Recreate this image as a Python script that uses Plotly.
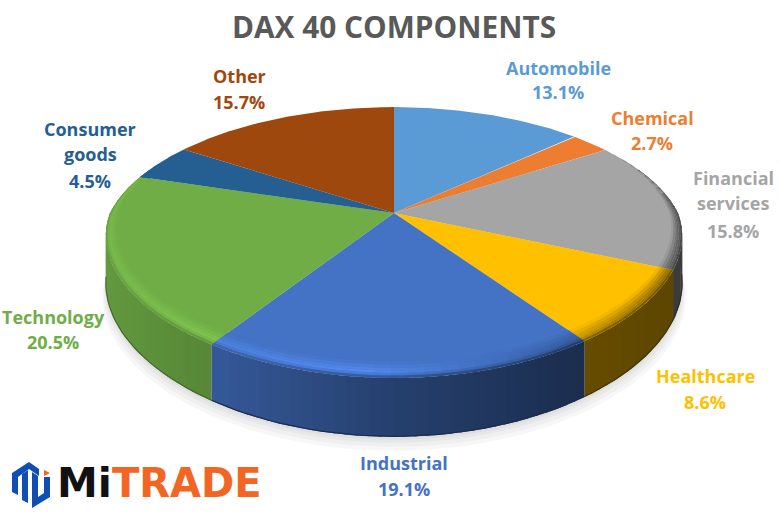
import numpy as np
import plotly.graph_objects as go

categories = ["Automobile", "Chemical", "Financial services", "Healthcare",
              "Industrial", "Technology", "Consumer goods", "Other"]
shares = [13.1, 2.7, 15.8, 8.6, 19.1, 20.5, 4.5, 15.7]
colors = ["#5B9BD5", "#ED7D31", "#A5A5A5", "#FFC000",
          "#4472C4", "#70AD47", "#255E91", "#9E480E"]
label_lines = [["Automobile"], ["Chemical"], ["Financial", "services"], ["Healthcare"],
               ["Industrial"], ["Technology"], ["Consumer", "goods"], ["Other"]]
label_x = [558, 652, 733, 705, 404, 53, 90, 239]
label_y = [[68, 92], [118, 143], [178, 203, 231], [376, 402],
           [463, 489], [317, 342], [129, 154, 181], [76, 102]]

W, H = 780, 519
CX, CY = 394, 213
KX_FRONT, KX_BACK, KY, A, B = 0.17, 0.23, 0.218, 284.0, 129.0
DEPTH = 46.0


def rgb(h):
    return np.array([int(h[i:i + 2], 16) for i in (1, 3, 5)], float)


def css(c):
    c = np.clip(c, 0, 255)
    return f"rgb({int(c[0])},{int(c[1])},{int(c[2])})"


def proj(theta, r=1.0, down=0.0):
    X, Y = r * np.sin(theta), -r * np.cos(theta)
    kx = np.where(Y > 0, KX_FRONT, KX_BACK)
    return CX + A * X / (1 - kx * Y), CY + B * Y / (1 - KY * Y) + down / (1 - KY * Y)


def side_factor(x):
    return np.interp((x - 108) / 575, [0, .18, .5, .83, 1], [.88, .78, .56, .40, .36])


def bevel_factor(x):
    return np.interp((x - 108) / 575, [0, .45, .65, 1], [1.08, 1.22, 1.0, .62])


def bevel_width(theta):
    Y = -np.cos(theta)
    return (.03 + .05 * max(Y, 0)) * np.clip((Y + .55) / .55, 0, 1)


fig = go.Figure()


def poly(xs, ys, color):
    fig.add_trace(go.Scatter(x=list(xs), y=list(ys), mode="lines", fill="toself",
                             fillcolor=color, line=dict(width=0),
                             hoverinfo="skip", showlegend=False))


edges = np.radians(np.concatenate([[0], np.cumsum(shares)]) * 3.6)

# soft ground shadow
full = np.linspace(0, 2 * np.pi, 240)
for grow, shift in zip([1.0, 1.004, 1.008, 1.012], [3, 6, 10, 14]):
    sx, sy = proj(full, 1.0, DEPTH)
    poly(CX + (sx - CX) * grow, sy + shift, "rgba(0,0,0,0.03)")

# side wall, cut into thin strips for the shading
STEP = np.radians(2.0)
LAP = np.radians(0.5)
for i in range(len(shares)):
    t0, t1 = edges[i], edges[i + 1]
    n = max(1, int(np.ceil((t1 - t0) / STEP)))
    ts = np.linspace(t0, t1, n + 1)
    for a, b in zip(ts[:-1], ts[1:]):
        if -np.cos((a + b) / 2) < -.35:
            continue
        arc = np.linspace(a, min(b + LAP, t1), 4)
        x1, y1 = proj(arc)
        x2, y2 = proj(arc, 1.0, DEPTH)
        poly(np.r_[x1, x2[::-1]], np.r_[y1, y2[::-1]], css(rgb(colors[i]) * side_factor(x1.mean())))
    # darker lower edge of the wall
    arc = np.linspace(t0, t1, 40)
    x2, y2 = proj(arc, 1.0, DEPTH)
    mask = -np.cos(arc) > 0.1
    if mask.any():
        edge = rgb(colors[i]) * side_factor(x2[mask].mean()) * .72
        fig.add_trace(go.Scatter(x=x2[mask], y=y2[mask] - .5, mode="lines",
                                 line=dict(color=css(edge), width=1.2),
                                 hoverinfo="skip", showlegend=False))

# top face
for i in range(len(shares)):
    arc = np.linspace(edges[i], edges[i + 1], 90)
    x, y = proj(arc)
    poly(np.r_[CX, x, CX], np.r_[CY, y, CY], colors[i])

# rounded bevel of the top rim
BANDS = [0, .2, .4, .55, .7, .85, 1.0]
BSTEP = np.radians(3.0)
for i in range(len(shares)):
    t0, t1 = edges[i], edges[i + 1]
    n = max(1, int(np.ceil((t1 - t0) / BSTEP)))
    ts = np.linspace(t0, t1, n + 1)
    base = rgb(colors[i])
    for a, b in zip(ts[:-1], ts[1:]):
        m = (a + b) / 2
        if bevel_width(m) <= 0.001:
            continue
        xm = proj(m)[0]
        hl = base * bevel_factor(xm)
        dark = base * side_factor(xm)
        for u0, u1 in zip(BANDS[:-1], BANDS[1:]):
            um = (u0 + u1) / 2
            if um < .6:
                col = base + (hl - base) * (um / .6)
            else:
                col = hl + (dark - hl) * ((um - .6) / .4) ** 2
            arc = np.linspace(a, min(b + LAP, t1), 4)
            r0 = np.array([1 - bevel_width(q) * (1 - u0) for q in arc])
            r1 = np.array([1 - bevel_width(q) * (1 - u1) for q in arc])
            x0, y0 = proj(arc, r0)
            x1, y1 = proj(arc, r1)
            poly(np.r_[x0, x1[::-1]], np.r_[y0, y1[::-1]], css(col))

# data labels
ann = []
FS = 18
for name, lines, lx, ys, v, c in zip(categories, label_lines, label_x, label_y, shares, colors):
    for text, ly in zip(lines + [f"{v:.1f}%"], ys):
        ann.append(dict(x=lx, y=ly, text=f"<b>{text}</b>", showarrow=False, xref="x", yref="y",
                        xanchor="center", yanchor="middle",
                        font=dict(family="Open Sans", size=FS, color=c)))

ann.append(dict(x=394, y=26, text="<b>DAX 40 COMPONENTS</b>", showarrow=False, xref="x", yref="y",
                xanchor="center", yanchor="middle",
                font=dict(family="Open Sans", size=29.8, color="#595959")))
ann.append(dict(x=84.5, y=483, text="<b>Mi</b>", showarrow=False, xref="x", yref="y",
                xanchor="center", yanchor="middle",
                font=dict(family="DejaVu Sans", size=41, color="#111111")))
ann.append(dict(x=186.5, y=483, text="<b>TRADE</b>", showarrow=False, xref="x", yref="y",
                xanchor="center", yanchor="middle",
                font=dict(family="DejaVu Sans", size=40, color="#F26522")))

logo_paths = [
    ("M12,473 L29,462 L39,469 L39,476 L29,469 L18,477 L18,495 L12,492 Z", "#0F4FB5"),
    ("M22,474 L28,470 L28,503 L22,500 Z", "#0F4FB5"),
    ("M32,472 L38,476 L38,497 L44,493 L44,477 L50,477 L50,497 L32,508 Z", "#0F4FB5"),
    ("M44,470 L50,473 L44,476 Z", "#F26522"),
]
shapes = [dict(type="path", path=p, fillcolor=c, line=dict(width=0), xref="x", yref="y", layer="above")
          for p, c in logo_paths]

fig.update_layout(
    width=W, height=H, margin=dict(l=0, r=0, t=0, b=0),
    paper_bgcolor="white", plot_bgcolor="white", showlegend=False,
    xaxis=dict(range=[0, W], visible=False, fixedrange=True),
    yaxis=dict(range=[H, 0], visible=False, fixedrange=True),
    annotations=ann, shapes=shapes,
)
fig.write_html("out.html", config=dict(displayModeBar=False),
               post_script="document.body.style.margin='0';document.body.style.overflow='hidden';")
